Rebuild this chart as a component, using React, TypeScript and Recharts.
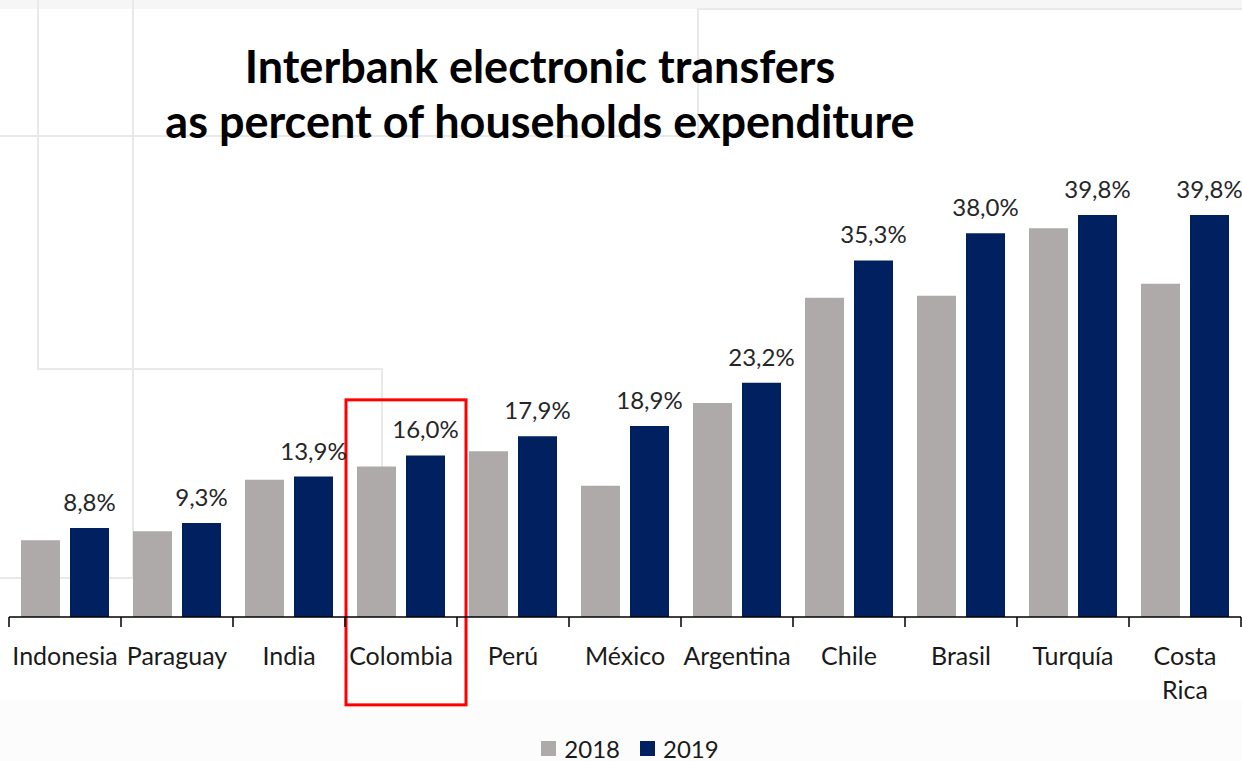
import React from "react";
import { BarChart, Bar, XAxis, YAxis, Legend, LabelList, ReferenceArea } from "recharts";

const categories = ["Indonesia", "Paraguay", "India", "Colombia", "Perú", "México", "Argentina", "Chile", "Brasil", "Turquía", "Costa Rica"];
const values2018 = [7.6, 8.5, 13.6, 14.9, 16.4, 13.0, 21.2, 31.6, 31.8, 38.5, 33.0];
const values2019 = [8.8, 9.3, 13.9, 16.0, 17.9, 18.9, 23.2, 35.3, 38.0, 39.8, 39.8];
const seriesNames = ["2018", "2019"];
const titleLines = ["Interbank electronic transfers", "as percent of households expenditure"];
const highlighted = "Colombia";

const COLOR_2018 = "#AEAAAA";
const COLOR_2019 = "#002060";

const data = categories.map((c, i) => ({ country: c, y2018: values2018[i], y2019: values2019[i] }));

const fmt = (v: any) => Number(v).toFixed(1).replace(".", ",") + "%";

const CountryTick = (props: any) => {
  const { x, y, payload, index } = props;
  const half = payload && payload.offset ? payload.offset : (props.width || 1232) / (2 * categories.length);
  const lines = String(payload.value).split(" ");
  return (
    <g>
      <line x1={x - half} x2={x - half} y1={y} y2={y + 10} stroke="#000" strokeWidth={1.5} />
      {index === categories.length - 1 && (
        <line x1={x + half} x2={x + half} y1={y} y2={y + 10} stroke="#000" strokeWidth={1.5} />
      )}
      <text x={x} y={y + 48} textAnchor="middle" fill="#1a1a1a" style={{ fontSize: 25, fontFamily: "Lato" }}>
        {lines.map((l, i) => (
          <tspan key={i} x={x} dy={i === 0 ? 0 : 34}>
            {l}
          </tspan>
        ))}
      </text>
    </g>
  );
};

const LegendContent = () => (
  <div
    style={{
      height: 26,
      display: "flex",
      alignItems: "center",
      justifyContent: "center",
      paddingLeft: 10,
      fontFamily: "Lato",
      fontSize: 24,
      color: "#1a1a1a",
    }}
  >
    {seriesNames.map((n, i) => (
      <div key={n} style={{ display: "flex", alignItems: "center", marginRight: i === 0 ? 20 : 0 }}>
        <div style={{ width: 15, height: 15, background: i === 0 ? COLOR_2018 : COLOR_2019, marginRight: 8 }} />
        <span>{n}</span>
      </div>
    ))}
  </div>
);

const RedBox = (p: any) => (
  <rect x={p.x + 1} y={p.y} width={p.width + 8} height={p.height} fill="none" stroke="#FF0000" strokeWidth={3} />
);

export default function App() {
  const bg = "#e9e9e9";
  return (
    <div
      style={{
        position: "absolute",
        left: 0,
        top: 0,
        width: 1242,
        height: 761,
        background: "#ffffff",
        fontFamily: "Lato",
        overflow: "hidden",
      }}
    >
      <svg width={1242} height={761} style={{ position: "absolute", left: 0, top: 0 }}>
        <rect x={0} y={0} width={1242} height={9} fill="#f6f6f6" />
        <rect x={0} y={700} width={1242} height={61} fill="#fcfcfc" />
        <g stroke={bg} strokeWidth={2} fill="none">
          <polyline points="0,136 698,136 698,9 1242,9" />
          <polyline points="38,0 38,369 382,369 382,470" />
          <polyline points="133,0 133,578 0,578" />
        </g>
        {titleLines.map((t, i) => (
          <text
            key={i}
            x={540}
            y={83 + i * 55}
            textAnchor="middle"
            fontFamily="Lato"
            fontWeight={700}
            fontSize={45}
            fill="#000"
          >
            {t}
          </text>
        ))}
      </svg>
      <div style={{ position: "absolute", left: 0, top: 0 }}>
        <BarChart
          width={1242}
          height={761}
          data={data}
          margin={{ top: 213, right: 1, left: 9, bottom: 0 }}
          barCategoryGap={12}
          barGap={10}
        >
          <XAxis
            dataKey="country"
            interval={0}
            height={118}
            tickSize={0}
            tickMargin={0}
            tickLine={false}
            axisLine={{ stroke: "#000", strokeWidth: 1.5 }}
            tick={<CountryTick />}
          />
          <YAxis hide domain={[0, 40]} />
          <Legend verticalAlign="bottom" height={26} content={<LegendContent />} />
          <Bar dataKey="y2018" name={seriesNames[0]} fill={COLOR_2018} isAnimationActive={false} />
          <Bar dataKey="y2019" name={seriesNames[1]} fill={COLOR_2019} isAnimationActive={false}>
            <LabelList
              dataKey="y2019"
              position="top"
              offset={17}
              formatter={fmt}
              fill="#262626"
              style={{ fontSize: 24, fontFamily: "Lato" }}
            />
          </Bar>
          <ReferenceArea
            x1={highlighted}
            x2={highlighted}
            y1={-8.7}
            y2={21.5}
            ifOverflow="visible"
            shape={<RedBox />}
          />
        </BarChart>
      </div>
    </div>
  );
}
